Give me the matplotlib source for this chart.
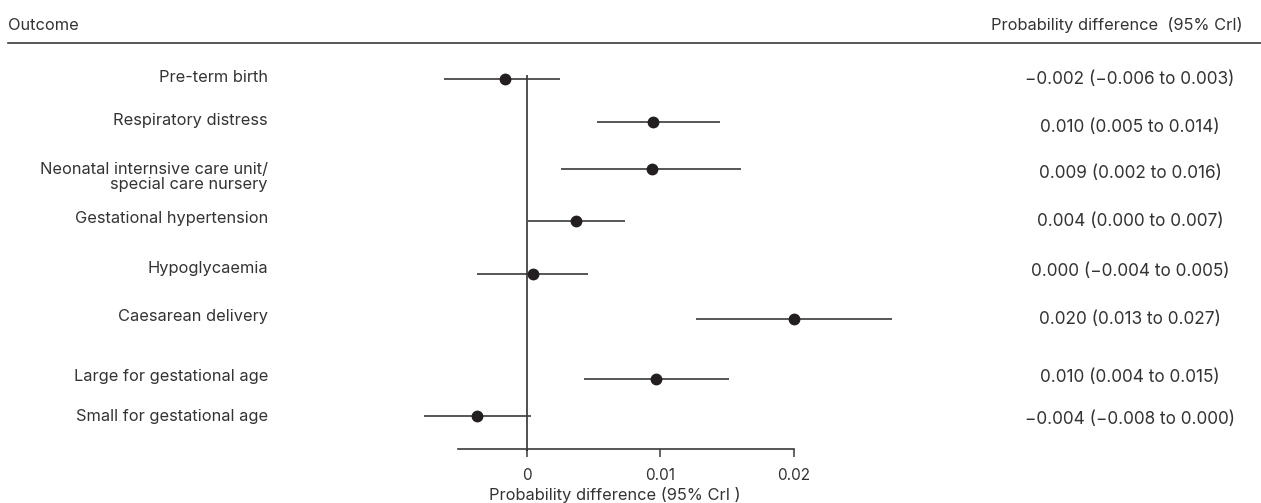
#! /usr/bin/env python3

"Forest plot of probability differences for pregnancy outcomes."

import matplotlib
matplotlib.use("Agg")
import matplotlib.pyplot as plt

outcomes = [
    "Pre-term birth",
    "Respiratory distress",
    "Neonatal internsive care unit/\nspecial care nursery",
    "Gestational hypertension",
    "Hypoglycaemia",
    "Caesarean delivery",
    "Large for gestational age",
    "Small for gestational age",
]
estimate = [-0.0016, 0.0095, 0.0094, 0.0037, 0.0005, 0.0200, 0.0097, -0.0037]
lower = [-0.0062, 0.0053, 0.0026, 0.0001, -0.0037, 0.0127, 0.0043, -0.0077]
upper = [0.0025, 0.0145, 0.0161, 0.0074, 0.0046, 0.0274, 0.0152, 0.0003]
summary = [
    "\u22120.002 (\u22120.006 to 0.003)",
    "0.010 (0.005 to 0.014)",
    "0.009 (0.002 to 0.016)",
    "0.004 (0.000 to 0.007)",
    "0.000 (\u22120.004 to 0.005)",
    "0.020 (0.013 to 0.027)",
    "0.010 (0.004 to 0.015)",
    "\u22120.004 (\u22120.008 to 0.000)",
]
ticks = [0, 0.01, 0.02]
tick_labels = ["0", "0.01", "0.02"]

# layout (vertical positions in pixels from the top of the figure)
W, H = 1261, 503
row_pos = [79, 122, 169, 221, 274, 319, 379, 416]
label_pos = [78, 121, 177, 218, 269, 317, 376, 416]
text_pos = [79, 127, 173, 222, 272, 320, 378, 419]
axis_y = 449
zero_px = 526.5
px_per_unit = 13350
fs = 11.8

ink = "#231f20"
txt = "#333333"
plt.rcParams["font.family"] = ["Inter", "DejaVu Sans"]


def get_forest_plot():
    fig = plt.figure(figsize=(W / 100, H / 100), dpi=100)
    ax = fig.add_axes([0, (H - axis_y) / H, 1, axis_y / H])
    ax.set_xlim(-zero_px / px_per_unit, (W - zero_px) / px_per_unit)
    ax.set_ylim(axis_y, 0)

    # line of no difference
    ax.vlines(0, 75, axis_y + 2, color=ink, lw=1.1, clip_on=False)

    # intervals and point estimates
    ax.hlines(row_pos, lower, upper, color="#3a3a3a", lw=1.2, clip_on=False)
    ax.plot(estimate, row_pos, "o", color=ink, ms=7.5, clip_on=False, zorder=3)

    for spine in ["left", "right", "top"]:
        ax.spines[spine].set_visible(False)
    ax.spines["bottom"].set_bounds(-0.0051, 0.02)
    ax.spines["bottom"].set_color("#3a3a3a")
    ax.spines["bottom"].set_linewidth(1.2)
    ax.set_yticks([])
    ax.set_xticks(ticks)
    ax.set_xticklabels(tick_labels)
    ax.tick_params(axis="x", direction="out", length=6, width=1.1,
                   color="#3a3a3a", labelsize=11, labelcolor=txt, pad=8)
    ax.set_facecolor("none")

    fig.text(615 / W, 1 - 495 / H, "Probability difference (95% CrI )",
             ha="center", va="center", fontsize=fs, color=txt)

    # row labels and numeric summaries
    for name, y in zip(outcomes, label_pos):
        fig.text(268 / W, 1 - y / H, name, ha="right", va="center",
                 fontsize=fs, color=txt, linespacing=1.05,
                 multialignment="right")
    for s, y in zip(summary, text_pos):
        fig.text(1130 / W, 1 - y / H, s, ha="center", va="center",
                 fontsize=12.4, color=txt)

    # header
    fig.text(8 / W, 1 - 25 / H, "Outcome", ha="left", va="center",
             fontsize=fs, color=txt)
    fig.text(1243 / W, 1 - 25 / H, "Probability difference  (95% CrI)",
             ha="right", va="center", fontsize=fs, color=txt)
    fig.add_artist(plt.Line2D([8 / W, 1], [1 - 43 / H, 1 - 43 / H],
                              transform=fig.transFigure, color="#3a3a3a", lw=1.2))

    fig.savefig("out.png", dpi=100)
    plt.close(fig)


if __name__ == '__main__':
    get_forest_plot()
